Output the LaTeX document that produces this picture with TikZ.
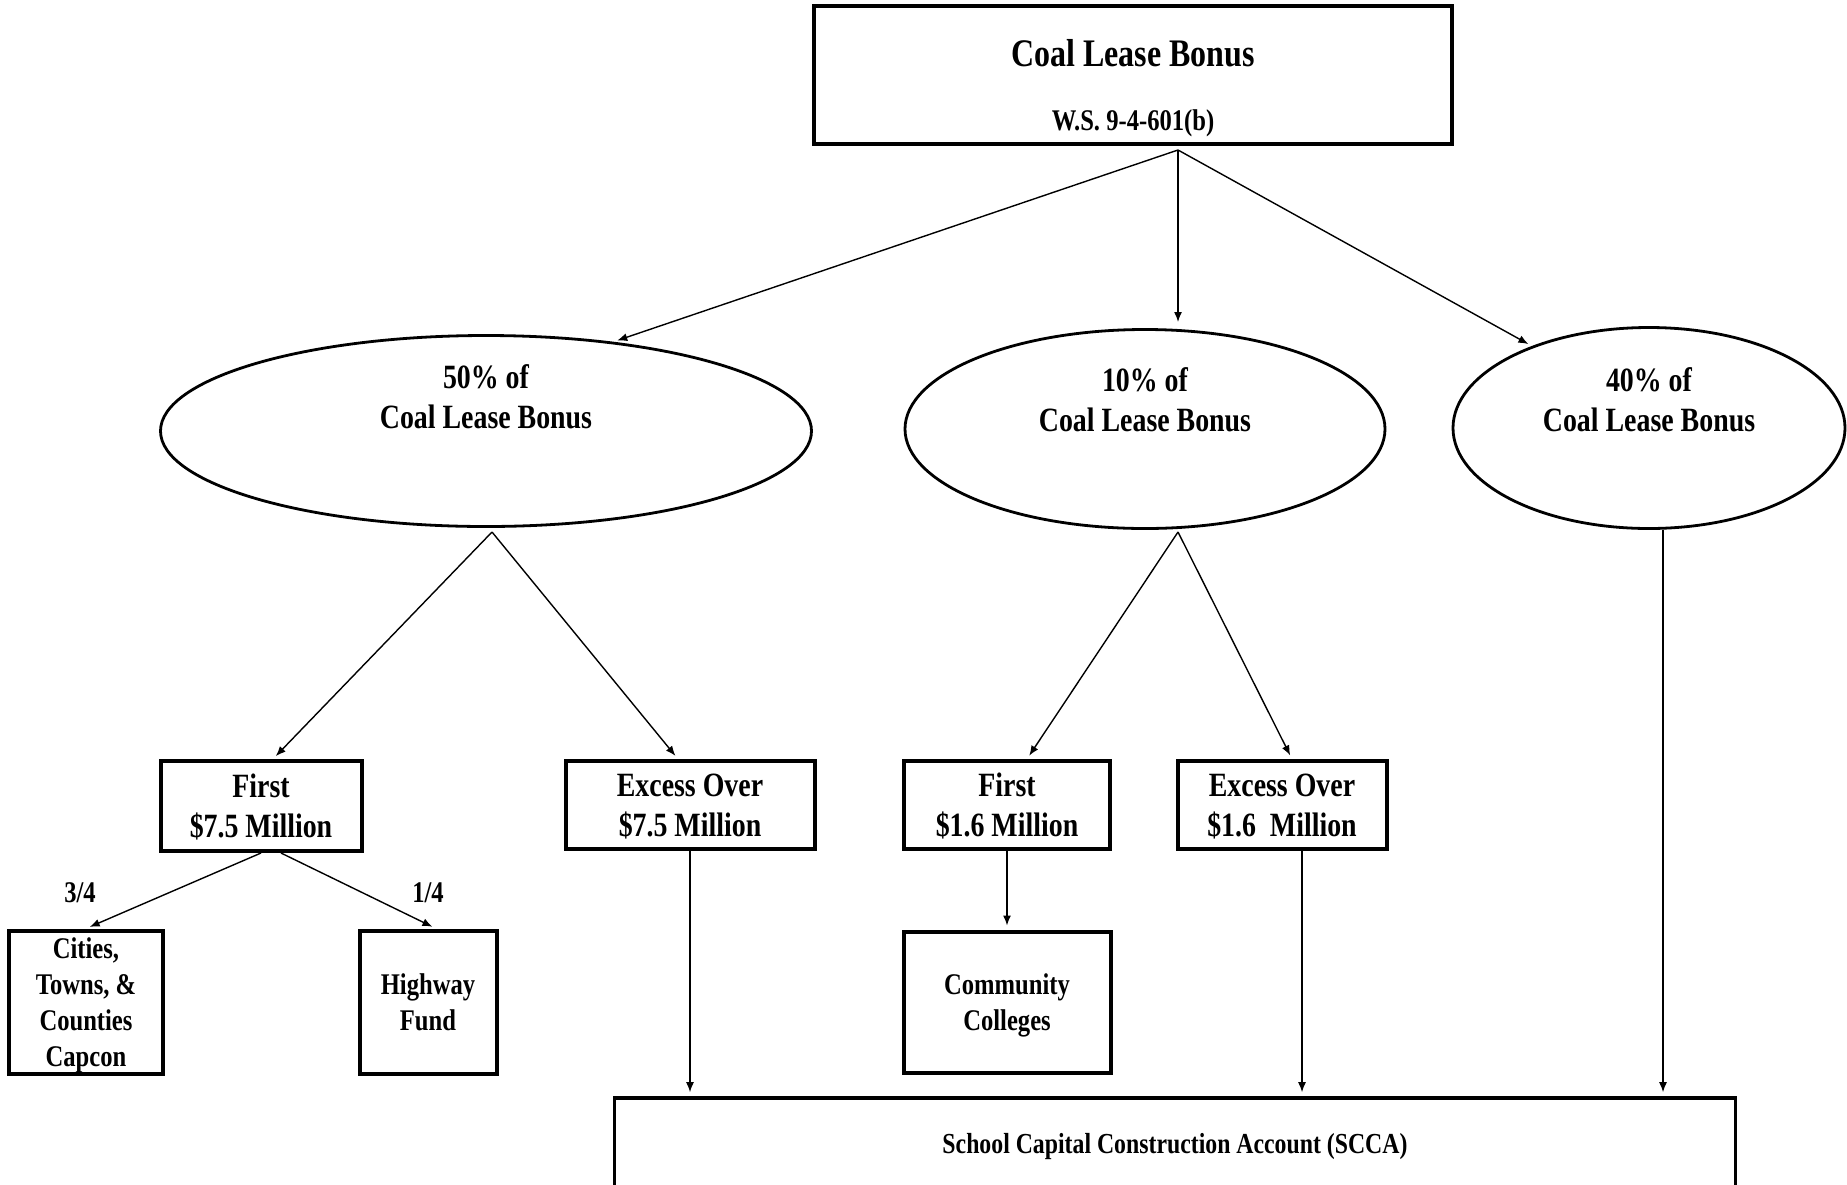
\documentclass[tikz,border=0pt]{standalone}
\usepackage{fontspec}
\setmainfont{Liberation Serif}[FakeStretch=0.82]
\usetikzlibrary{shapes.geometric,arrows.meta}

\begin{document}
\begin{tikzpicture}[x=0.5pt,y=-0.5pt,
	box/.style={shape=rectangle,draw=black,line width=2pt,align=center,inner sep=0pt,text depth=0pt,
		font=\bfseries\fontsize{17}{20}\selectfont},
	smallbox/.style={box,font=\bfseries\fontsize{15}{18}\selectfont},
	oval/.style={shape=ellipse,draw=black,line width=1.4pt,inner sep=0pt},
	txt/.style={align=center,inner sep=0pt,font=\bfseries\fontsize{17}{20}\selectfont},
	share/.style={inner sep=0pt,font=\bfseries\fontsize{15}{17}\selectfont},
	flow/.style={-{Latex[length=5pt,width=4pt]},line width=0.7pt,shorten >=2pt}]
	\useasboundingbox (0,0) rectangle (1847,1184);

	\node[box,line width=1.6pt,minimum width=319pt,minimum height=69pt] (bonus) at (1133, 75) {};
	\node[inner sep=0pt,font=\bfseries\fontsize{19.5}{22}\selectfont] (bonustitle) at (1133, 53) {Coal Lease Bonus};
	\node[share] (bonuslaw) at (1133, 123) {W.S. 9-4-601(b)};

	\node[oval,minimum width=325.5pt,minimum height=95.5pt] (half) at (486, 431) {};
	\node[txt] (halftext) at (486, 397) {50\% of\\Coal Lease Bonus};
	\node[oval,minimum width=240pt,minimum height=99.5pt] (ten) at (1145, 429) {};
	\node[txt] (tentext) at (1145, 400) {10\% of\\Coal Lease Bonus};
	\node[oval,minimum width=196pt,minimum height=100.5pt] (forty) at (1649, 428) {};
	\node[txt] (fortytext) at (1649, 400) {40\% of\\Coal Lease Bonus};

	\node[box,minimum width=100.5pt,minimum height=45pt] (firstA) at (261, 806) {First\\\$7.5 Million};
	\node[box,minimum width=124.5pt,minimum height=44pt] (excessA) at (690, 805) {Excess Over\\\$7.5 Million};
	\node[box,minimum width=103pt,minimum height=44pt] (firstB) at (1007, 805) {First\\\$1.6 Million};
	\node[box,minimum width=104.5pt,minimum height=44pt] (excessB) at (1282, 805) {Excess Over\\\$1.6\ \ Million};

	\node[smallbox,minimum width=77pt,minimum height=71.5pt] (cities) at (86, 1002) {Cities,\\Towns, \&\\Counties\\Capcon};
	\node[smallbox,minimum width=68.5pt,minimum height=71.5pt] (highway) at (428, 1002) {Highway\\Fund};
	\node[smallbox,minimum width=103.5pt,minimum height=70.5pt] (college) at (1007, 1002) {Community\\Colleges};
	\node[share] (threeq) at (80, 893) {3/4};
	\node[share] (oneq) at (428, 893) {1/4};

	\node[box,line width=1.8pt,font=\bfseries\fontsize{14.5}{17}\selectfont,text depth=3.5pt,
		minimum width=560.5pt,minimum height=49pt] (scca) at (1175, 1147) {School Capital Construction Account (SCCA)};

	\coordinate (split) at (1178, 150);
	\coordinate (tenin) at (1178, 326);
	\coordinate (halfout) at (492, 532);
	\coordinate (tenout) at (1178, 532);
	\coordinate (excessBout) at ([xshift=10pt]excessB.south);
	\coordinate (fortyout) at ([xshift=7pt]forty.south);

	\path[flow] (split) edge (half.35);
	\path[flow] (split) edge (tenin);
	\path[flow] (split) edge (forty.145);

	\path[flow] (halfout) edge ([xshift=6pt]firstA.north);
	\path[flow] (halfout) edge ([xshift=-6pt]excessA.north);
	\path[flow] (tenout) edge ([xshift=10pt]firstB.north);
	\path[flow] (tenout) edge ([xshift=5pt]excessB.north);

	\path[flow] (firstA.south) edge (cities.north);
	\path[flow] ([xshift=10pt]firstA.south) edge ([xshift=4pt]highway.north);
	\path[flow] (firstB) edge (college);

	\path[flow] (excessA) edge (excessA |- scca.north);
	\path[flow] (excessBout) edge (excessBout |- scca.north);
	\path[flow] (fortyout) edge (fortyout |- scca.north);

\end{tikzpicture}
\end{document}
